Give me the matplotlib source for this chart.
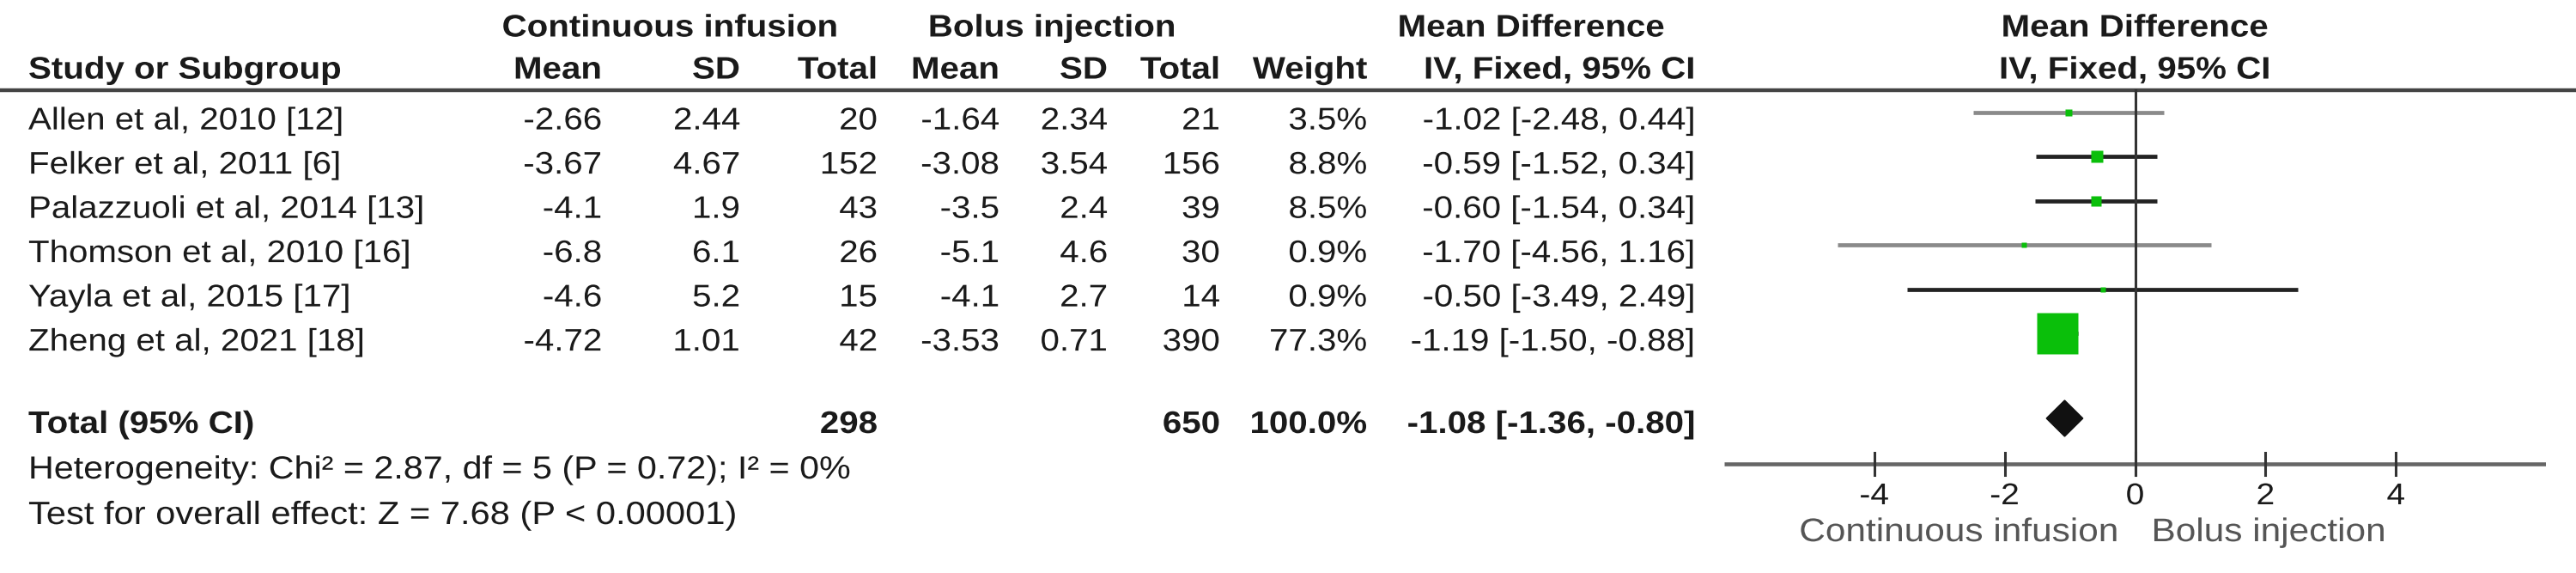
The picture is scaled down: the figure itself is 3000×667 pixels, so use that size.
import matplotlib
matplotlib.use('Agg')
from matplotlib import pyplot as plt
from matplotlib.patches import Polygon
from matplotlib.patheffects import AbstractPathEffect
from matplotlib.transforms import Affine2D

plt.rcParams['font.family'] = ['Liberation Sans', 'DejaVu Sans']

#%% data
studies = ['Allen et al, 2010 [12]', 'Felker et al, 2011 [6]', 'Palazzuoli et al, 2014 [13]',
           'Thomson et al, 2010 [16]', 'Yayla et al, 2015 [17]', 'Zheng et al, 2021 [18]']
ci_mean = [-2.66, -3.67, -4.1, -6.8, -4.6, -4.72]
ci_sd = [2.44, 4.67, 1.9, 6.1, 5.2, 1.01]
ci_n = [20, 152, 43, 26, 15, 42]
bi_mean = [-1.64, -3.08, -3.5, -5.1, -4.1, -3.53]
bi_sd = [2.34, 3.54, 2.4, 4.6, 2.7, 0.71]
bi_n = [21, 156, 39, 30, 14, 390]
weight = [3.5, 8.8, 8.5, 0.9, 0.9, 77.3]
md = [-1.02, -0.59, -0.60, -1.70, -0.50, -1.19]
md_lo = [-2.48, -1.52, -1.54, -4.56, -3.49, -1.50]
md_hi = [0.44, 0.34, 0.34, 1.16, 2.49, -0.88]

total_ci_n = 298
total_bi_n = 650
total_md, total_lo, total_hi = -1.08, -1.36, -0.80
heterogeneity = 'Heterogeneity: Chi² = 2.87, df = 5 (P = 0.72); I² = 0%'
overall = 'Test for overall effect: Z = 7.68 (P < 0.00001)'
xticks = [-4, -2, 0, 2, 4]


# text in the reference is a bit flatter than Arial, squash glyphs around the baseline
class Squash(AbstractPathEffect):
    def __init__(self, sy):
        super().__init__()
        self.sy = sy

    def draw_path(self, renderer, gc, tpath, affine, rgbFace=None):
        renderer.draw_path(gc, tpath, Affine2D().scale(1, self.sy) + affine, rgbFace)


#%% layout (pixel units, figure is 3000 x 667)
W, H = 3000, 667
row0, step = 130.6, 51.5
total_y = 487
axis_y = 540
x_name = 33
col_right = [701, 862, 1022, 1164, 1290, 1421, 1592, 1974]
fs = 29
txt = '#1a1a1a'
line_col = ['#8a8a8a', '#222222', '#222222', '#8a8a8a', '#222222', '#222222']
green = '#0abf0a'
pe = [Squash(0.9)]

fig = plt.figure(figsize=(W / 100, H / 100), dpi=100)
ax = fig.add_axes([0, 0, 1, 1])
ax.set_xlim(0, W)
ax.set_ylim(H, 0)
ax.axis('off')

fx = fig.add_axes([2008 / W, 0, 957 / W, 1])
fx.set_xlim(-6.3, 6.3)
fx.set_ylim(H, 0)
fx.axis('off')


def put(a, x, y, s, ha='left', bold=False, size=fs, color=txt):
    a.text(x, y, s, ha=ha, va='baseline', fontsize=size, color=color,
           fontweight='bold' if bold else 'normal', path_effects=pe)


# header
put(ax, 780, 42.5, 'Continuous infusion', 'center', True)
put(ax, 1225, 42.5, 'Bolus injection', 'center', True)
put(ax, 1783, 42.5, 'Mean Difference', 'center', True)
put(ax, 2486, 42.5, 'Mean Difference', 'center', True)
put(ax, x_name, 91.5, 'Study or Subgroup', 'left', True)
for x, s in zip(col_right, ['Mean', 'SD', 'Total', 'Mean', 'SD', 'Total', 'Weight', 'IV, Fixed, 95% CI']):
    put(ax, x, 91.5, s, 'right', True)
put(ax, 2486, 91.5, 'IV, Fixed, 95% CI', 'center', True)
ax.plot([0, W], [104.5, 104.5], color='#444444', lw=3.2, solid_capstyle='butt')

# study rows
for i in range(len(studies)):
    y = row0 + i * step
    vals = [str(ci_mean[i]), str(ci_sd[i]), str(ci_n[i]), str(bi_mean[i]), str(bi_sd[i]), str(bi_n[i]),
            '%.1f%%' % weight[i], '%.2f [%.2f, %.2f]' % (md[i], md_lo[i], md_hi[i])]
    put(ax, x_name, y + 20, studies[i])
    for x, s in zip(col_right, vals):
        put(ax, x, y + 20, s, 'right')
    fx.plot([md_lo[i], md_hi[i]], [y, y], color=line_col[i], lw=3.4, solid_capstyle='butt')
    side = max(5.5, 48 * (weight[i] / max(weight)) ** 0.6)
    fx.plot(md[i], y, 's', color=green, ms=side * 0.72, mec='none', zorder=3)

# total row
put(ax, x_name, total_y + 17, 'Total (95% CI)', 'left', True)
for x, s in zip([col_right[2], col_right[5], col_right[6], col_right[7]],
                [str(total_ci_n), str(total_bi_n), '100.0%',
                 '%.2f [%.2f, %.2f]' % (total_md, total_lo, total_hi)]):
    put(ax, x, total_y + 17, s, 'right', True)
fx.add_patch(Polygon([(total_lo, total_y), (total_md, total_y - 21), (total_hi, total_y), (total_md, total_y + 21)],
                     closed=True, color='#111111', zorder=3))

put(ax, x_name, 557, heterogeneity, size=29.7)
put(ax, x_name, 610, overall, size=30)

# forest axis
fx.plot([0, 0], [104.5, 553], color='#333333', lw=2.2, zorder=2)
fx.plot([-6.3, 6.3], [axis_y, axis_y], color='#666666', lw=3.3, solid_capstyle='butt')
for t in xticks:
    fx.plot([t, t], [527, 553], color='#333333', lw=2.2)
    put(fx, t, 587, '%d' % t, 'center', size=28)
put(fx, -0.25, 630, 'Continuous infusion', 'right', size=30.5, color='#555555')
put(fx, 0.25, 630, 'Bolus injection', 'left', size=30.5, color='#555555')

fig.savefig('out.png', dpi=100, facecolor='white')
